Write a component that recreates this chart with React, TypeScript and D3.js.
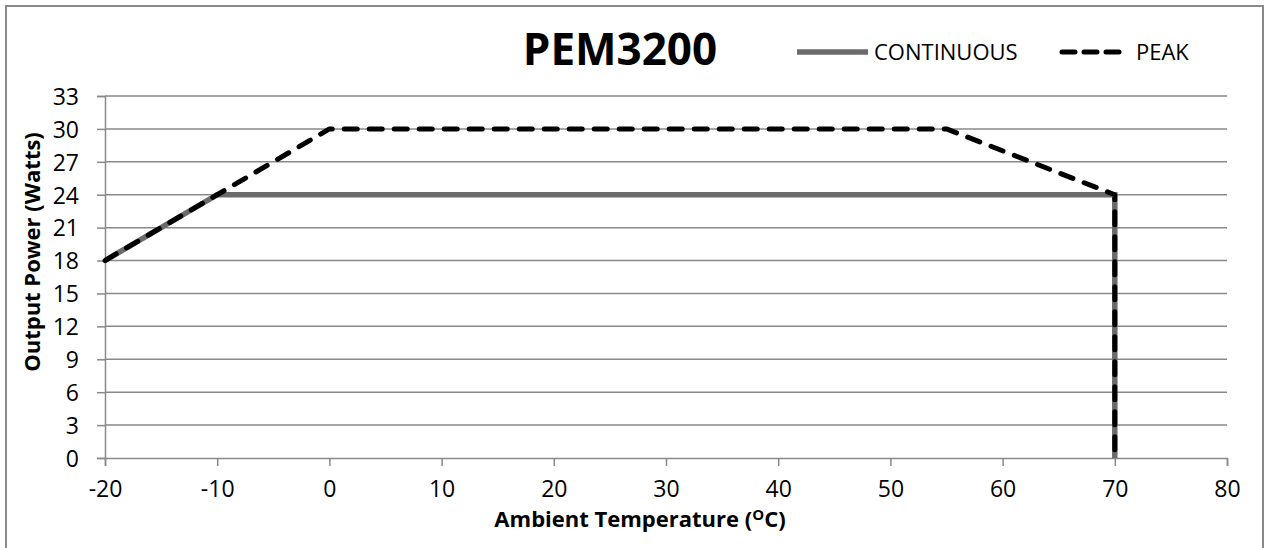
import { useEffect, useRef } from 'react';
import * as d3 from 'd3';

// Output power derating
const continuousTemp = [-20, -10, 70, 70];
const continuousWatts = [18, 24, 24, 0];
const peakTemp = [-20, -10, 0, 55, 70, 70];
const peakWatts = [18, 24, 30, 30, 24, 0];

const xTicks = [-20, -10, 0, 10, 20, 30, 40, 50, 60, 70, 80];
const yTicks = [0, 3, 6, 9, 12, 15, 18, 21, 24, 27, 30, 33];

const chartTitle = 'PEM3200';
const legendLabels = ['CONTINUOUS', 'PEAK'];

const FONT = "'Open Sans', 'Noto Sans', sans-serif";
const GRID = '#898989';
const CONT_COLOR = '#6b6b6b';

export default function App() {
  const svgRef = useRef<SVGSVGElement>(null);

  useEffect(() => {
    if (!svgRef.current) return;
    const svg = d3.select(svgRef.current);
    svg.selectAll('*').remove();

    const W = 1268;
    const H = 548;
    const plot = { left: 105, right: 1227, top: 96, bottom: 458 };

    const x = d3.scaleLinear().domain([-20, 80]).range([plot.left, plot.right]);
    const y = d3.scaleLinear().domain([0, 33]).range([plot.bottom, plot.top]);

    svg.attr('width', W).attr('height', H);

    // outer frame (bottom edge falls outside the picture)
    svg
      .append('rect')
      .attr('x', 6)
      .attr('y', 6)
      .attr('width', 1257)
      .attr('height', 560)
      .attr('fill', '#fff')
      .attr('stroke', GRID)
      .attr('stroke-width', 2);

    // horizontal grid
    svg
      .append('g')
      .selectAll('line')
      .data(yTicks.filter((t) => t > 0))
      .enter()
      .append('line')
      .attr('x1', plot.left)
      .attr('x2', plot.right)
      .attr('y1', (d) => y(d))
      .attr('y2', (d) => y(d))
      .attr('stroke', GRID)
      .attr('stroke-width', 1.5);

    // plain hyphen for negatives, like the original
    const fmt = (d: d3.NumberValue) => String(d);

    // y axis
    const yAxis = svg
      .append('g')
      .attr('transform', `translate(${plot.left},0)`)
      .call(d3.axisLeft(y).tickValues(yTicks).tickSize(8).tickPadding(18).tickFormat(fmt));
    yAxis.select('.domain').attr('stroke', GRID).attr('stroke-width', 1.5);
    yAxis.selectAll('.tick line').attr('stroke', GRID).attr('stroke-width', 1.5);
    yAxis
      .selectAll('.tick text')
      .attr('font-family', FONT)
      .attr('font-size', 23)
      .attr('fill', '#000')
      .attr('dy', '0.36em');

    // x axis
    const xAxis = svg
      .append('g')
      .attr('transform', `translate(0,${plot.bottom})`)
      .call(d3.axisBottom(x).tickValues(xTicks).tickSize(8).tickPadding(12).tickFormat(fmt));
    xAxis.select('.domain').attr('stroke', GRID).attr('stroke-width', 1.5);
    xAxis.selectAll('.tick line').attr('stroke', GRID).attr('stroke-width', 1.5);
    xAxis
      .selectAll('.tick text')
      .attr('font-family', FONT)
      .attr('font-size', 23)
      .attr('fill', '#000')
      .attr('dy', '0.82em');

    const line = d3
      .line<[number, number]>()
      .x((d) => x(d[0]))
      .y((d) => y(d[1]));

    const contData = continuousTemp.map((t, i) => [t, continuousWatts[i]] as [number, number]);
    const peakData = peakTemp.map((t, i) => [t, peakWatts[i]] as [number, number]);

    svg
      .append('path')
      .datum(contData)
      .attr('fill', 'none')
      .attr('stroke', CONT_COLOR)
      .attr('stroke-width', 5.5)
      .attr('d', line);

    svg
      .append('path')
      .datum(peakData)
      .attr('fill', 'none')
      .attr('stroke', '#000')
      .attr('stroke-width', 5)
      .attr('stroke-dasharray', '13,12')
      .attr('stroke-linecap', 'round')
      .attr('stroke-linejoin', 'round')
      .attr('d', line);

    // title
    svg
      .append('text')
      .attr('x', 620)
      .attr('y', 65)
      .attr('text-anchor', 'middle')
      .attr('font-family', FONT)
      .attr('font-weight', 'bold')
      .attr('font-size', 44)
      .text(chartTitle);

    // legend
    const legend = svg.append('g');
    legend
      .append('line')
      .attr('x1', 797)
      .attr('x2', 868)
      .attr('y1', 52)
      .attr('y2', 52)
      .attr('stroke', CONT_COLOR)
      .attr('stroke-width', 5.5);
    legend
      .append('text')
      .attr('x', 874)
      .attr('y', 60)
      .attr('font-family', FONT)
      .attr('font-size', 22)
      .text(legendLabels[0]);
    legend
      .append('line')
      .attr('x1', 1062)
      .attr('x2', 1120)
      .attr('y1', 52)
      .attr('y2', 52)
      .attr('stroke', '#000')
      .attr('stroke-width', 5)
      .attr('stroke-dasharray', '13,9')
      .attr('stroke-linecap', 'round');
    legend
      .append('text')
      .attr('x', 1136)
      .attr('y', 60)
      .attr('font-family', FONT)
      .attr('font-size', 22)
      .text(legendLabels[1]);

    // axis titles
    svg
      .append('text')
      .attr('transform', 'translate(40,252) rotate(-90)')
      .attr('text-anchor', 'middle')
      .attr('font-family', FONT)
      .attr('font-weight', 'bold')
      .attr('font-size', 22)
      .text('Output Power (Watts)');

    const xt = svg
      .append('text')
      .attr('x', 640)
      .attr('y', 527)
      .attr('text-anchor', 'middle')
      .attr('font-family', FONT)
      .attr('font-weight', 'bold')
      .attr('font-size', 22);
    xt.append('tspan').text('Ambient Temperature (');
    xt.append('tspan').attr('font-size', 15).attr('dy', -7).text('O');
    xt.append('tspan').attr('dy', 7).text('C)');
  }, []);

  return (
    <div style={{ position: 'absolute', left: 0, top: 0 }}>
      <svg ref={svgRef} />
    </div>
  );
}
